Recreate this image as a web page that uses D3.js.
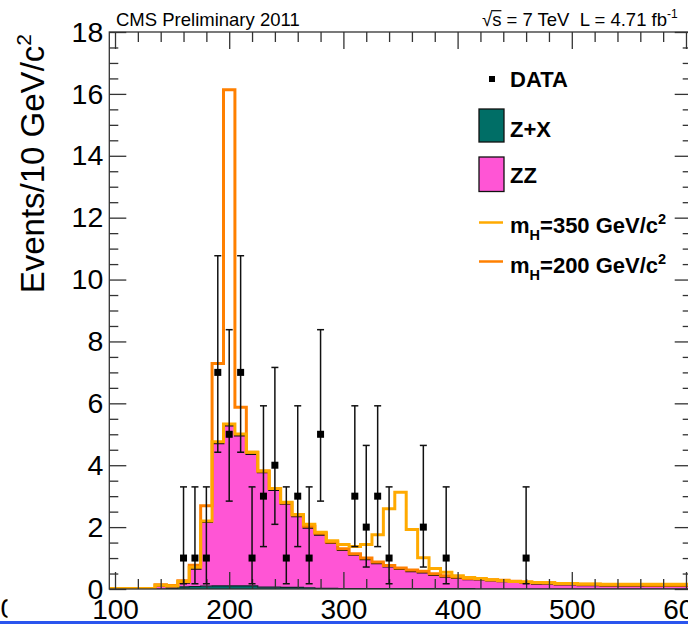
<!DOCTYPE html>
<html>
<head>
<meta charset="utf-8">
<script src="https://cdn.jsdelivr.net/npm/d3@7"></script>
<style>
  html, body { margin: 0; padding: 0; background: #fff; overflow: hidden; }
  svg { display: block; }
  text { font-family: "Liberation Sans", Arial, Helvetica, sans-serif; }
</style>
</head>
<body>
<svg id="chart" width="688" height="625"></svg>
<script>
// Four-lepton invariant mass, 10 GeV bins centred on 100 ... 600 GeV
const binCenters = d3.range(100, 601, 10);

// Reducible background (Z+X), events per bin
const zxBkg = [
  0, 0, 0, 0, 0, 0.02, 0.07, 0.08, 0.09, 0.10,
  0.10, 0.10, 0.10, 0.06, 0.06, 0.05, 0.05, 0.04, 0.02, 0.02,
  0.01, 0.01, 0.01, 0.01, 0.01, 0.01, 0.01, 0.01, 0.01, 0.01,
  0.01, 0.01, 0, 0, 0, 0, 0, 0, 0, 0,
  0, 0, 0, 0, 0, 0, 0, 0, 0, 0, 0
];

// Irreducible ZZ background, events per bin
const zzBkg = [
  0, 0, 0, 0, 0.10, 0.06, 0.13, 0.57, 2.07, 4.61,
  5.18, 4.86, 4.26, 3.71, 3.14, 2.70, 2.30, 1.94, 1.73, 1.46,
  1.25, 1.09, 0.95, 0.82, 0.71, 0.63, 0.56, 0.52, 0.44, 0.38,
  0.34, 0.30, 0.30, 0.27, 0.25, 0.22, 0.20, 0.17, 0.17, 0.14,
  0.14, 0.12, 0.12, 0.10, 0.10, 0.10, 0.10, 0.09, 0.09, 0.09, 0.09
];

// Higgs signal expectation, m_H = 200 GeV/c^2
const sigH200 = [
  0.02, 0.02, 0.02, 0.02, 0.04, 0.03, 0.07, 0.12, 0.53, 2.58,
  10.85, 0.91, 0.06, 0.04, 0.05, 0.04, 0.04, 0.05, 0.05, 0.04,
  0.04, 0.04, 0.04, 0.04, 0.04, 0.04, 0.04, 0.04, 0.04, 0.04,
  0.04, 0.03, 0.03, 0.03, 0.03, 0.03, 0.03, 0.03, 0.03, 0.03,
  0.03, 0.03, 0.03, 0.03, 0.03, 0.03, 0.03, 0.03, 0.03, 0.03, 0.03
];

// Higgs signal expectation, m_H = 350 GeV/c^2
const sigH350 = [
  0.02, 0.02, 0.02, 0.02, 0.02, 0.02, 0.04, 0.05, 0.04, 0.05,
  0.05, 0.05, 0.06, 0.04, 0.05, 0.05, 0.06, 0.11, 0.08, 0.08,
  0.18, 0.27, 0.48, 0.92, 1.87, 2.49, 1.35, 0.48, 0.21, 0.15,
  0.08, 0.06, 0.04, 0.03, 0.02, 0.02, 0.03, 0.04, 0.03, 0.04,
  0.04, 0.04, 0.04, 0.05, 0.05, 0.05, 0.05, 0.06, 0.06, 0.06, 0.06
];

// Observed events (non-empty bins) with asymmetric Poisson intervals
const dataMass  = [160, 170, 180, 190, 200, 210, 220, 230, 240, 250, 260, 270, 280, 310, 320, 330, 340, 370, 390, 460];
const dataCount = [1, 1, 1, 7, 5, 7, 1, 3, 4, 1, 3, 1, 5, 3, 2, 3, 1, 2, 1, 1];
const dataLow   = [0.17, 0.17, 0.17, 4.42, 2.84, 4.42, 0.17, 1.37, 2.09, 0.17, 1.37, 0.17, 2.84, 1.37, 0.71, 1.37, 0.17, 0.71, 0.17, 0.17];
const dataHigh  = [3.30, 3.30, 3.30, 10.77, 8.38, 10.77, 3.30, 5.92, 7.16, 3.30, 5.92, 3.30, 8.38, 5.92, 4.64, 5.92, 3.30, 4.64, 3.30, 3.30];

// Axis ticks
const xMajorTicks = [100, 200, 300, 400, 500, 600];
const xMinorTicks = d3.range(100, 601, 20).filter(v => v % 100 !== 0);
const yMajorTicks = [0, 2, 4, 6, 8, 10, 12, 14, 16, 18];
const yMinorTicks = d3.range(0, 18.01, 0.5).filter(v => v % 2 !== 0);

// Legend entries
const legendLabels = ["DATA", "Z+X", "ZZ", "350", "200"];

const colors = {
  zx: "#006e66",
  zz: "#ff55d5",
  h200: "#ff8000",
  h350: "#ffaa00"
};

const svg = d3.select("#chart");
const x = d3.scaleLinear().domain([95, 605]).range([109.3, 691.7]);
const y = d3.scaleLinear().domain([0, 18]).range([589, 32]);

const frame = { left: x(95), right: x(605), top: y(18), bottom: y(0) };

// Per-bin stacked levels
const bins = binCenters.map((c, i) => {
  const zx = zxBkg[i];
  const tot = zx + zzBkg[i];
  return {
    lo: c - 5,
    zx: zx,
    tot: tot,
    h200: tot + sigH200[i],
    h350: tot + sigH350[i]
  };
});
// closing point at the upper edge of the last bin
const stepPts = bins.concat([Object.assign({}, bins[bins.length - 1], { lo: 605 })]);

const plot = svg.append("g");
plot.append("clipPath").attr("id", "frameClip")
  .append("rect")
  .attr("x", frame.left).attr("y", frame.top)
  .attr("width", frame.right - frame.left).attr("height", frame.bottom - frame.top);

const hist = plot.append("g").attr("clip-path", "url(#frameClip)");

// Z+X area
hist.append("path")
  .datum(stepPts)
  .attr("fill", colors.zx)
  .attr("d", d3.area().curve(d3.curveStepAfter)
    .x(d => x(d.lo)).y0(y(0)).y1(d => y(d.zx)));

// ZZ area stacked on Z+X
hist.append("path")
  .datum(stepPts)
  .attr("fill", colors.zz)
  .attr("d", d3.area().curve(d3.curveStepAfter)
    .x(d => x(d.lo)).y0(d => y(d.zx)).y1(d => y(d.tot)));

const stepLine = key => d3.line().curve(d3.curveStepAfter)
  .x(d => x(d.lo)).y(d => y(d[key]));

// Z+X outline
hist.append("path").datum(stepPts)
  .attr("fill", "none").attr("stroke", "#0a2a28").attr("stroke-width", 1.2)
  .attr("d", stepLine("zx"));

// total background outline
hist.append("path").datum(stepPts)
  .attr("fill", "none").attr("stroke", "#111").attr("stroke-width", 1.8)
  .attr("d", stepLine("tot"));

// signal + background lines
hist.append("path").datum(stepPts)
  .attr("fill", "none").attr("stroke", colors.h200).attr("stroke-width", 3)
  .attr("d", stepLine("h200"));
hist.append("path").datum(stepPts)
  .attr("fill", "none").attr("stroke", colors.h350).attr("stroke-width", 3)
  .attr("d", stepLine("h350"));

// Frame and axes
const axisColor = "#333";
const styleAxis = (g, size) => {
  g.select(".domain").remove();
  g.selectAll(".tick line").attr("stroke", axisColor).attr("stroke-width", 1.3);
  g.selectAll(".tick text").attr("fill", "#000").style("font-size", size + "px")
    .style("font-family", "'Liberation Sans', Arial, Helvetica, sans-serif");
};

plot.append("g").attr("transform", `translate(0,${frame.bottom})`)
  .call(d3.axisBottom(x).tickValues(xMajorTicks).tickSize(-17).tickPadding(10).tickFormat(d3.format("d")))
  .call(g => styleAxis(g, 28));
plot.append("g").attr("transform", `translate(0,${frame.bottom})`)
  .call(d3.axisBottom(x).tickValues(xMinorTicks).tickSize(-10).tickFormat(""))
  .call(g => styleAxis(g, 28));
plot.append("g").attr("transform", `translate(0,${frame.top})`)
  .call(d3.axisTop(x).tickValues(xMajorTicks).tickSize(-17).tickFormat(""))
  .call(g => styleAxis(g, 28));
plot.append("g").attr("transform", `translate(0,${frame.top})`)
  .call(d3.axisTop(x).tickValues(xMinorTicks).tickSize(-10).tickFormat(""))
  .call(g => styleAxis(g, 28));

plot.append("g").attr("transform", `translate(${frame.left},0)`)
  .call(d3.axisLeft(y).tickValues(yMajorTicks).tickSize(-17).tickPadding(6).tickFormat(d3.format("d")))
  .call(g => styleAxis(g, 28.5));
plot.append("g").attr("transform", `translate(${frame.left},0)`)
  .call(d3.axisLeft(y).tickValues(yMinorTicks).tickSize(-9).tickFormat(""))
  .call(g => styleAxis(g, 28));
plot.append("g").attr("transform", `translate(${frame.right},0)`)
  .call(d3.axisRight(y).tickValues(yMajorTicks).tickSize(-17).tickFormat(""))
  .call(g => styleAxis(g, 28));
plot.append("g").attr("transform", `translate(${frame.right},0)`)
  .call(d3.axisRight(y).tickValues(yMinorTicks).tickSize(-9).tickFormat(""))
  .call(g => styleAxis(g, 28));

plot.append("rect")
  .attr("x", frame.left).attr("y", frame.top)
  .attr("width", frame.right - frame.left).attr("height", frame.bottom - frame.top)
  .attr("fill", "none").attr("stroke", axisColor).attr("stroke-width", 1.3);

// Data points with error bars
const pts = plot.append("g");
dataMass.forEach((m, i) => {
  const cx = x(m);
  const g = pts.append("g");
  g.append("line").attr("x1", cx).attr("x2", cx)
    .attr("y1", y(dataLow[i])).attr("y2", y(dataHigh[i]))
    .attr("stroke", "#111").attr("stroke-width", 1.5);
  [dataLow[i], dataHigh[i]].forEach(v => {
    g.append("line").attr("x1", cx - 3.5).attr("x2", cx + 3.5)
      .attr("y1", y(v)).attr("y2", y(v))
      .attr("stroke", "#111").attr("stroke-width", 1.5);
  });
  g.append("rect").attr("x", cx - 3.5).attr("y", y(dataCount[i]) - 3.5)
    .attr("width", 7).attr("height", 7).attr("fill", "#000");
});

// Axis title
const yTitle = svg.append("text")
  .attr("transform", "translate(44,34) rotate(-90)")
  .attr("text-anchor", "end")
  .style("font-size", "33px")
  .attr("fill", "#000");
yTitle.append("tspan").text("Events/10 GeV/c");
yTitle.append("tspan").attr("dy", -13).style("font-size", "21px").text("2");

// Header texts
svg.append("text").attr("x", 116).attr("y", 25.5)
  .style("font-size", "18.5px").attr("fill", "#000")
  .text("CMS Preliminary 2011");

const lumi = svg.append("text").attr("x", 482).attr("y", 25.5)
  .style("font-size", "18.5px").attr("fill", "#000");
lumi.append("tspan").text("\u221As");
lumi.append("tspan").text(" = 7 TeV\u00a0\u00a0L = 4.71 fb");
lumi.append("tspan").attr("dy", -8).style("font-size", "12px").text("-1");
// bar of the square root over "s"
{
  const node = lumi.node();
  const e0 = node.getExtentOfChar(0);
  const e1 = node.getExtentOfChar(1);
  svg.append("line")
    .attr("x1", e0.x + e0.width - 1).attr("x2", e1.x + e1.width)
    .attr("y1", e0.y + 2.2).attr("y2", e0.y + 2.2)
    .attr("stroke", "#000").attr("stroke-width", 1.2);
}

// Legend
const leg = svg.append("g");
const legFont = "22px";
// DATA
leg.append("rect").attr("x", 489).attr("y", 76).attr("width", 6).attr("height", 6).attr("fill", "#000");
leg.append("text").attr("x", 510).attr("y", 86.5).style("font-size", legFont).style("font-weight", "bold")
  .text(legendLabels[0]);
// Z+X
leg.append("rect").attr("x", 479).attr("y", 109).attr("width", 25).attr("height", 33)
  .attr("fill", colors.zx).attr("stroke", "#111").attr("stroke-width", 1.3);
leg.append("text").attr("x", 510).attr("y", 137).style("font-size", legFont).style("font-weight", "bold")
  .text(legendLabels[1]);
// ZZ
leg.append("rect").attr("x", 479).attr("y", 157).attr("width", 25).attr("height", 34.5)
  .attr("fill", colors.zz).attr("stroke", "#111").attr("stroke-width", 1.3);
leg.append("text").attr("x", 510).attr("y", 183).style("font-size", legFont).style("font-weight", "bold")
  .text(legendLabels[2]);
// mass hypotheses
[[legendLabels[3], colors.h350, 222.5, 233], [legendLabels[4], colors.h200, 261.5, 272.5]].forEach(([lab, col, ly, by]) => {
  leg.append("line").attr("x1", 479).attr("x2", 503).attr("y1", ly).attr("y2", ly)
    .attr("stroke", col).attr("stroke-width", 2.5);
  const t = leg.append("text").attr("x", 510).attr("y", by).style("font-size", legFont).style("font-weight", "bold");
  t.append("tspan").text("m");
  t.append("tspan").attr("dy", 7).style("font-size", "14.5px").text("H");
  t.append("tspan").attr("dy", -7).text("=" + lab + " GeV/c");
  t.append("tspan").attr("dy", -9).style("font-size", "14.5px").text("2");
});

// Neighbouring panel fragment and separator along the bottom edge
svg.append("clipPath").attr("id", "edgeClip")
  .append("rect").attr("x", 0).attr("y", 590).attr("width", 7.5).attr("height", 30);
svg.append("text").attr("x", 0.5).attr("y", 618).attr("clip-path", "url(#edgeClip)")
  .style("font-size", "28px").attr("fill", "#000").text("0");
svg.append("rect").attr("x", 0).attr("y", 621).attr("width", 688).attr("height", 3)
  .attr("fill", "#2a55ee");
</script>
</body>
</html>
